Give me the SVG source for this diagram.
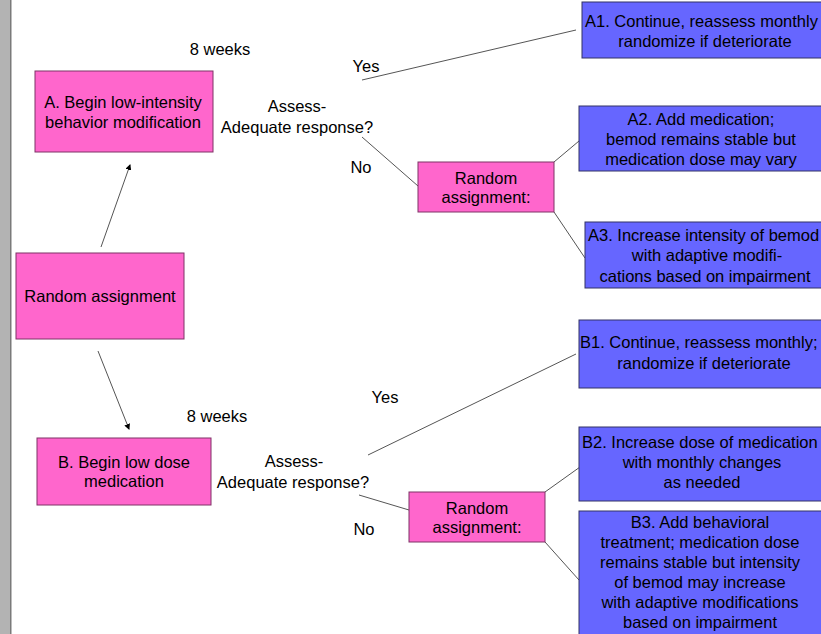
<svg xmlns="http://www.w3.org/2000/svg" width="821" height="634" viewBox="0 0 821 634">
<style>
text{font-family:"Liberation Sans",Arial,sans-serif;font-size:16.5px;fill:#000;text-anchor:middle}
.pink{fill:#FF66CC;stroke:#7F3366;stroke-width:1}
.blue{fill:#6666FF;stroke:#333366;stroke-width:1}
.conn line{stroke:#555;stroke-width:1}
</style>
<defs>
<marker id="ah" markerWidth="6" markerHeight="6" refX="5" refY="3" orient="auto" markerUnits="userSpaceOnUse">
<path d="M0,0 L6,3 L0,6 z" fill="#000"/>
</marker>
</defs>
<rect x="0" y="0" width="821" height="634" fill="#fff"/>
<rect x="0" y="0" width="10" height="634" fill="#B3B3B3"/>
<rect x="10" y="0" width="1.5" height="634" fill="#7a7a7a"/>

<g class="conn">
<line x1="101" y1="247" x2="130" y2="165" marker-end="url(#ah)"/>
<line x1="98" y1="351" x2="129" y2="429" marker-end="url(#ah)"/>
<line x1="362" y1="80" x2="576" y2="30"/>
<line x1="362" y1="137" x2="418" y2="186"/>
<line x1="554" y1="162" x2="579" y2="141"/>
<line x1="554" y1="212" x2="585" y2="258"/>
<line x1="368" y1="455" x2="576" y2="354"/>
<line x1="359" y1="495" x2="409" y2="510"/>
<line x1="545" y1="492" x2="580" y2="467"/>
<line x1="545" y1="542" x2="579" y2="580"/>
</g>

<g id="labels">
<text x="220" y="55">8 weeks</text>
<text x="366" y="72">Yes</text>
<text x="297" y="112">Assess-</text>
<text x="297" y="133">Adequate response?</text>
<text x="361" y="173">No</text>
<text x="217" y="422">8 weeks</text>
<text x="385" y="403">Yes</text>
<text x="294" y="467">Assess-</text>
<text x="293" y="488">Adequate response?</text>
<text x="364" y="535">No</text>
</g>

<g id="nodeA">
<rect class="pink" x="35" y="71" width="178" height="81"/>
<text x="123" y="108">A. Begin low-intensity</text>
<text x="123" y="128">behavior modification</text>
</g>
<g id="nodeRA">
<rect class="pink" x="16" y="253" width="168" height="86"/>
<text x="100" y="302">Random assignment</text>
</g>
<g id="nodeB">
<rect class="pink" x="37" y="438" width="174" height="67"/>
<text x="124" y="468">B. Begin low dose</text>
<text x="124" y="487">medication</text>
</g>
<g id="nodeRAA">
<rect class="pink" x="418" y="162" width="136" height="50"/>
<text x="486" y="184">Random</text>
<text x="486" y="203">assignment:</text>
</g>
<g id="nodeRAB">
<rect class="pink" x="409" y="492" width="136" height="50"/>
<text x="477" y="514">Random</text>
<text x="477" y="533">assignment:</text>
</g>

<g id="nodeA1">
<rect class="blue" x="582" y="2" width="245" height="56"/>
<text x="585" y="27" style="text-anchor:start">A1. Continue, reassess monthly</text>
<text x="705" y="47">randomize if deteriorate</text>
</g>
<g id="nodeA2">
<rect class="blue" x="579" y="106" width="248" height="65"/>
<text x="701" y="125">A2. Add medication;</text>
<text x="701" y="145">bemod remains stable but</text>
<text x="701" y="165">medication dose may vary</text>
</g>
<g id="nodeA3">
<rect class="blue" x="585" y="222" width="242" height="66"/>
<text x="588" y="241" style="text-anchor:start">A3. Increase intensity of bemod</text>
<text x="707" y="261">with adaptive modifi-</text>
<text x="705" y="282">cations based on impairment</text>
</g>
<g id="nodeB1">
<rect class="blue" x="579" y="320" width="248" height="68"/>
<text x="580" y="348" style="text-anchor:start">B1. Continue, reassess monthly;</text>
<text x="704" y="369">randomize if deteriorate</text>
</g>
<g id="nodeB2">
<rect class="blue" x="579" y="427" width="248" height="74"/>
<text x="582" y="448" style="text-anchor:start">B2. Increase dose of medication</text>
<text x="702" y="468">with monthly changes</text>
<text x="702" y="488">as needed</text>
</g>
<g id="nodeB3">
<rect class="blue" x="579" y="511" width="248" height="130"/>
<text x="700" y="528">B3. Add behavioral</text>
<text x="700" y="548">treatment; medication dose</text>
<text x="700" y="568">remains stable but intensity</text>
<text x="700" y="588">of bemod may increase</text>
<text x="700" y="608">with adaptive modifications</text>
<text x="700" y="628">based on impairment</text>
</g>
</svg>
